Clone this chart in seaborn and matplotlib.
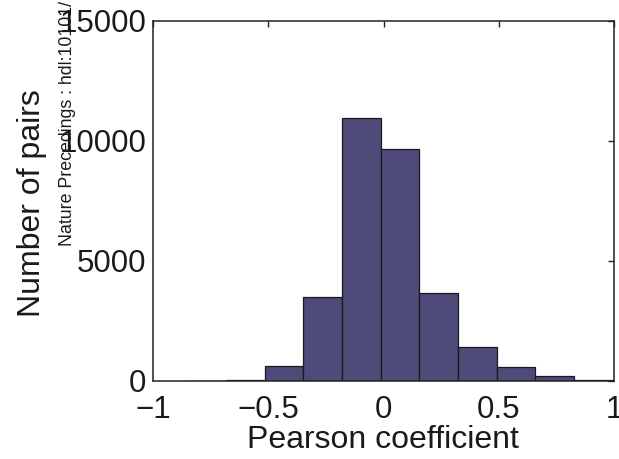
import numpy as np
import pandas as pd
import matplotlib
matplotlib.use("Agg")
import matplotlib.pyplot as plt
import seaborn as sns

# Histogram of Pearson coefficients between pairs (11 equal bins over the data range)
bin_lo = -0.851
bin_hi = 0.994
counts = [5, 60, 620, 3500, 10950, 9650, 3680, 1420, 570, 210, 50]

x_ticks = [-1, -0.5, 0, 0.5, 1]
x_tick_labels = ["\u22121", "\u22120.5", "0", "0.5", "1"]
y_ticks = [0, 5000, 10000, 15000]
y_tick_labels = ["0", "5000", "10000", "15000"]

edges = np.linspace(bin_lo, bin_hi, len(counts) + 1)
centers = (edges[:-1] + edges[1:]) / 2
df = pd.DataFrame({"r": centers, "n": counts})

sns.set_style("white")
plt.rcParams["font.family"] = ["Liberation Sans", "DejaVu Sans"]

fig = plt.figure(figsize=(6.19, 4.59), dpi=100)
ax = fig.add_axes([153 / 619, 1 - 381 / 459, 461 / 619, 360 / 459])

sns.histplot(data=df, x="r", weights="n", bins=[float(e) for e in edges], ax=ax,
             color="#4E4A7A", alpha=1.0, edgecolor="#1a1a1a", linewidth=0.9)

ax.set_xlim(-1, 1)
ax.set_ylim(0, 15000)
ax.set_xticks(x_ticks)
ax.set_xticklabels(x_tick_labels)
ax.set_yticks(y_ticks)
ax.set_yticklabels(y_tick_labels)
ax.set_xlabel("")
ax.set_ylabel("")

for s in ax.spines.values():
    s.set_visible(True)
    s.set_color("#222222")
    s.set_linewidth(1.1)

ax.tick_params(axis="both", which="both", direction="in", length=4,
               width=1.0, color="#222222", labelsize=22.5, labelcolor="#1a1a1a",
               top=True, right=True)
ax.tick_params(axis="x", pad=10)
ax.tick_params(axis="y", pad=5)

fig.text(383 / 619, 1 - 440 / 459, "Pearson coefficient", fontsize=23,
         color="#1a1a1a", ha="center", va="center")
fig.text(32 / 619, 1 - 203 / 459, "Number of pairs", fontsize=23,
         color="#1a1a1a", ha="center", va="center", rotation=90)
fig.text(68 / 619, 1 - 246 / 459, "Nature Precedings : hdl:10101/", fontsize=12.8,
         color="#1a1a1a", ha="center", va="bottom", rotation=90)

fig.savefig("out.png", dpi=100)
